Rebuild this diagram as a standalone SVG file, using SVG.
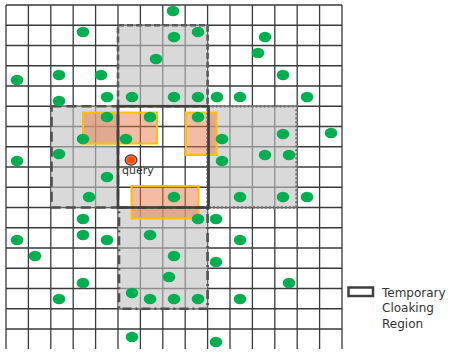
<svg xmlns="http://www.w3.org/2000/svg" width="451" height="353" viewBox="0 0 451 353">
<style>
.grid{stroke:#3a3a3a;stroke-width:1.3;fill:none}
.reg{fill:#c2c2c2;fill-opacity:0.62}
.orng{fill:#e87a48;fill-opacity:0.5;stroke:#ffc000;stroke-width:2}
.dot{fill:#00b050}
.b{fill:none;stroke-width:2.6}
.t{font-family:"DejaVu Sans",sans-serif;fill:#333}
</style>
<rect x="0" y="0" width="451" height="353" fill="#fff"/>
<g id="grid">
<path class="grid" d="M6 5V349M28.4 5V349M50.8 5V349M73.2 5V349M95.6 5V349M118 5V349M140.4 5V349M162.8 5V349M185.2 5V349M207.6 5V349M230 5V349M252.4 5V349M274.8 5V349M297.2 5V349M319.6 5V349M342 5V349"/>
<path class="grid" d="M6 5H342M6 25.25H342M6 45.5H342M6 65.75H342M6 86H342M6 106.25H342M6 126.5H342M6 146.75H342M6 167H342M6 187.25H342M6 207.5H342M6 227.75H342M6 248H342M6 268.25H342M6 288.5H342M6 308.75H342M6 329H342"/>
</g>
<g id="region-top"><rect class="reg" x="118" y="25.25" width="89.6" height="81"/></g>
<g id="region-left"><rect class="reg" x="50.8" y="106.25" width="67.2" height="101.25"/></g>
<g id="region-right"><rect class="reg" x="207.6" y="106.25" width="89.6" height="101.25"/></g>
<g id="region-bottom"><rect class="reg" x="118" y="207.5" width="89.6" height="101.25"/></g>
<g id="orange-boxes">
<rect class="orng" x="83" y="112.5" width="74" height="31"/>
<rect class="orng" x="186" y="112.5" width="30.5" height="42.5"/>
<rect class="orng" x="131.5" y="186" width="67" height="32.5"/>
</g>
<g id="borders">
<rect class="b" x="118" y="25.25" width="89.6" height="81" stroke="#5a5a5a" stroke-dasharray="6 3"/>
<rect class="b" x="51.5" y="106.25" width="66.5" height="101.25" stroke="#505050" stroke-dasharray="10 5"/>
<rect class="b" x="207.6" y="106.25" width="89" height="101.25" stroke="#707070" stroke-width="2" stroke-dasharray="2 2"/>
<rect class="b" x="119" y="207.5" width="88.6" height="101.25" stroke="#505050" stroke-dasharray="9 4 2 4"/>
</g>
<g id="cloaking-region"><rect x="118" y="106.25" width="90.6" height="101.25" fill="none" stroke="#404040" stroke-width="2.6"/></g>
<g id="points">
<ellipse class="dot" cx="173" cy="11" rx="6.3" ry="5.3"/>
<ellipse class="dot" cx="83" cy="32" rx="6.3" ry="5.3"/>
<ellipse class="dot" cx="174" cy="37" rx="6.3" ry="5.3"/>
<ellipse class="dot" cx="198" cy="32" rx="6.3" ry="5.3"/>
<ellipse class="dot" cx="265" cy="37" rx="6.3" ry="5.3"/>
<ellipse class="dot" cx="258" cy="53" rx="6.3" ry="5.3"/>
<ellipse class="dot" cx="156" cy="59" rx="6.3" ry="5.3"/>
<ellipse class="dot" cx="17" cy="80" rx="6.3" ry="5.3"/>
<ellipse class="dot" cx="59" cy="75" rx="6.3" ry="5.3"/>
<ellipse class="dot" cx="101" cy="75" rx="6.3" ry="5.3"/>
<ellipse class="dot" cx="283" cy="75" rx="6.3" ry="5.3"/>
<ellipse class="dot" cx="59" cy="101" rx="6.3" ry="5.3"/>
<ellipse class="dot" cx="107" cy="97" rx="6.3" ry="5.3"/>
<ellipse class="dot" cx="132" cy="97" rx="6.3" ry="5.3"/>
<ellipse class="dot" cx="174" cy="97" rx="6.3" ry="5.3"/>
<ellipse class="dot" cx="198" cy="97" rx="6.3" ry="5.3"/>
<ellipse class="dot" cx="217" cy="97" rx="6.3" ry="5.3"/>
<ellipse class="dot" cx="240" cy="97" rx="6.3" ry="5.3"/>
<ellipse class="dot" cx="307" cy="97" rx="6.3" ry="5.3"/>
<ellipse class="dot" cx="107" cy="117" rx="6.3" ry="5.3"/>
<ellipse class="dot" cx="150" cy="117" rx="6.3" ry="5.3"/>
<ellipse class="dot" cx="198" cy="117" rx="6.3" ry="5.3"/>
<ellipse class="dot" cx="83" cy="139" rx="6.3" ry="5.3"/>
<ellipse class="dot" cx="126" cy="139" rx="6.3" ry="5.3"/>
<ellipse class="dot" cx="222" cy="139" rx="6.3" ry="5.3"/>
<ellipse class="dot" cx="283" cy="134" rx="6.3" ry="5.3"/>
<ellipse class="dot" cx="331" cy="133" rx="6.3" ry="5.3"/>
<ellipse class="dot" cx="17" cy="161" rx="6.3" ry="5.3"/>
<ellipse class="dot" cx="59" cy="154" rx="6.3" ry="5.3"/>
<ellipse class="dot" cx="222" cy="161" rx="6.3" ry="5.3"/>
<ellipse class="dot" cx="265" cy="155" rx="6.3" ry="5.3"/>
<ellipse class="dot" cx="289" cy="155" rx="6.3" ry="5.3"/>
<ellipse class="dot" cx="107" cy="177" rx="6.3" ry="5.3"/>
<ellipse class="dot" cx="89" cy="197" rx="6.3" ry="5.3"/>
<ellipse class="dot" cx="174" cy="197" rx="6.3" ry="5.3"/>
<ellipse class="dot" cx="240" cy="197" rx="6.3" ry="5.3"/>
<ellipse class="dot" cx="283" cy="197" rx="6.3" ry="5.3"/>
<ellipse class="dot" cx="307" cy="197" rx="6.3" ry="5.3"/>
<ellipse class="dot" cx="83" cy="219" rx="6.3" ry="5.3"/>
<ellipse class="dot" cx="198" cy="219" rx="6.3" ry="5.3"/>
<ellipse class="dot" cx="216" cy="219" rx="6.3" ry="5.3"/>
<ellipse class="dot" cx="17" cy="240" rx="6.3" ry="5.3"/>
<ellipse class="dot" cx="83" cy="235" rx="6.3" ry="5.3"/>
<ellipse class="dot" cx="107" cy="240" rx="6.3" ry="5.3"/>
<ellipse class="dot" cx="150" cy="235" rx="6.3" ry="5.3"/>
<ellipse class="dot" cx="240" cy="240" rx="6.3" ry="5.3"/>
<ellipse class="dot" cx="35" cy="256" rx="6.3" ry="5.3"/>
<ellipse class="dot" cx="174" cy="256" rx="6.3" ry="5.3"/>
<ellipse class="dot" cx="216" cy="262" rx="6.3" ry="5.3"/>
<ellipse class="dot" cx="83" cy="283" rx="6.3" ry="5.3"/>
<ellipse class="dot" cx="169" cy="277" rx="6.3" ry="5.3"/>
<ellipse class="dot" cx="289" cy="283" rx="6.3" ry="5.3"/>
<ellipse class="dot" cx="59" cy="299" rx="6.3" ry="5.3"/>
<ellipse class="dot" cx="132" cy="293" rx="6.3" ry="5.3"/>
<ellipse class="dot" cx="150" cy="299" rx="6.3" ry="5.3"/>
<ellipse class="dot" cx="174" cy="299" rx="6.3" ry="5.3"/>
<ellipse class="dot" cx="198" cy="299" rx="6.3" ry="5.3"/>
<ellipse class="dot" cx="240" cy="299" rx="6.3" ry="5.3"/>
<ellipse class="dot" cx="132" cy="337" rx="6.3" ry="5.3"/>
<ellipse class="dot" cx="216" cy="342" rx="6.3" ry="5.3"/>
</g>
<g id="query">
<ellipse cx="131" cy="160" rx="6.5" ry="5.8" fill="#3a3a3a"/>
<ellipse cx="131" cy="160" rx="5.2" ry="4.5" fill="#f08a50"/>
<ellipse cx="131" cy="160" rx="4.2" ry="3.6" fill="#ff5000"/>
<text class="t" x="122" y="174" font-size="11">query</text>
</g>
<g id="legend">
<rect x="348.5" y="287.5" width="24.5" height="8.5" fill="#fff" stroke="#404040" stroke-width="2.5"/>
<text class="t" x="382" y="296.5" font-size="12">Temporary</text>
<text class="t" x="382" y="312" font-size="12">Cloaking</text>
<text class="t" x="382" y="327.5" font-size="12">Region</text>
</g>
</svg>
